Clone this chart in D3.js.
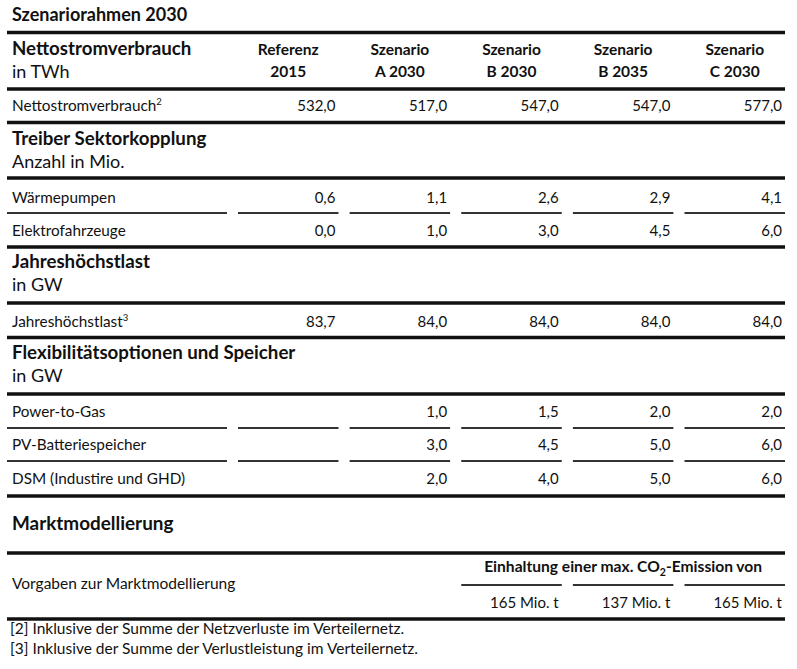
<!DOCTYPE html>
<html><head><meta charset="utf-8">
<script src="https://cdn.jsdelivr.net/npm/d3@7"></script>
<style>
body{margin:0;background:#fff;}
text{font-family:Lato,"Noto Sans",sans-serif;fill:#111;}
</style></head><body>
<svg id="c" width="797" height="669"></svg>
<script>
// ---- data ----
const title = "Szenariorahmen 2030";
const columns = ["Referenz|2015","Szenario|A 2030","Szenario|B 2030","Szenario|B 2035","Szenario|C 2030"];
const nettoValues = [532.0, 517.0, 547.0, 547.0, 577.0];
const waermepumpen = [0.6, 1.1, 2.6, 2.9, 4.1];
const elektrofahrzeuge = [0.0, 1.0, 3.0, 4.5, 6.0];
const hoechstlast = [83.7, 84.0, 84.0, 84.0, 84.0];
const powerToGas = [null, 1.0, 1.5, 2.0, 2.0];
const pvBatterie = [null, 3.0, 4.5, 5.0, 6.0];
const dsm = [null, 2.0, 4.0, 5.0, 6.0];
const co2Labels = ["B 2030","B 2035","C 2030"];
const co2Values = [165, 137, 165];
const footnotes = ["[2] Inklusive der Summe der Netzverluste im Verteilernetz.","[3] Inklusive der Summe der Verlustleistung im Verteilernetz."];

const svg = d3.select("#c");
const L = 7, R = 785, labelEnd = 227;
const BODY = 15.3, VAL = 15, HEAD = 15.5, SEC = 18.7;
const x = d3.scaleBand().domain(columns).range([238, R]).paddingInner(0.1).paddingOuter(0);
const fmt = v => v == null ? "" : d3.format(".1f")(v).replace(".", ",");

function rule(y, w, x1 = L, x2 = R) {
  svg.append("line").attr("x1", x1).attr("x2", x2).attr("y1", y).attr("y2", y)
    .attr("stroke", w > 2 ? "#111" : "#333").attr("stroke-width", w);
}
function txt(s, xx, y, opt = {}) {
  return svg.append("text").attr("x", xx).attr("y", y)
    .attr("font-size", opt.size || BODY).attr("font-weight", opt.bold ? 700 : 400)
    .attr("text-anchor", opt.anchor || "start").text(s);
}
function labelSup(s, sup, y) {
  const t = txt(s, 12, y);
  t.append("tspan").attr("font-size", 9.5).attr("dy", -6).text(sup);
}
function valueRow(vals, y, thinBelow) {
  columns.forEach((c, i) => {
    if (vals[i] != null) txt(fmt(vals[i]), x(c) + x.bandwidth() - 3, y, {anchor: "end", size: VAL});
  });
  if (thinBelow != null) {
    rule(thinBelow, 2, L, labelEnd);
    columns.forEach(c => rule(thinBelow, 2, x(c), x(c) + x.bandwidth()));
  }
}
function sectionHead(a, b, y) {
  txt(a, 12, y, {size: SEC, bold: true});
  txt(b, 12, y + 23, {size: 18});
}

// title
txt(title, 12, 21, {size: 18, bold: true});
rule(32.5, 3.5);
sectionHead("Nettostromverbrauch", "in TWh", 55);
columns.forEach(c => {
  const [a, b] = c.split("|");
  txt(a, x(c) + x.bandwidth() / 2, 55, {size: HEAD, bold: true, anchor: "middle"});
  txt(b, x(c) + x.bandwidth() / 2, 77, {size: HEAD, bold: true, anchor: "middle"});
});
rule(89, 3.5);
labelSup("Nettostromverbrauch", "2", 111);
valueRow(nettoValues, 111);
rule(122.5, 3.5);

sectionHead("Treiber Sektorkopplung", "Anzahl in Mio.", 145);
rule(178, 3.5);
txt("Wärmepumpen", 12, 203);
valueRow(waermepumpen, 203, 213);
txt("Elektrofahrzeuge", 12, 236);
valueRow(elektrofahrzeuge, 236);
rule(247, 3.5);

sectionHead("Jahreshöchstlast", "in GW", 268);
rule(303, 3.5);
labelSup("Jahreshöchstlast", "3", 327);
valueRow(hoechstlast, 327);
rule(337.5, 3.5);

sectionHead("Flexibilitätsoptionen und Speicher", "in GW", 359);
rule(394, 3.5);
txt("Power-to-Gas", 12, 417);
valueRow(powerToGas, 417, 428);
txt("PV-Batteriespeicher", 12, 450);
valueRow(pvBatterie, 450, 461);
txt("DSM (Industire und GHD)", 12, 484);
valueRow(dsm, 484);
rule(496, 3.5);

txt("Marktmodellierung", 12, 530, {size: 18.9, bold: true});
rule(553, 3.5);
txt("Vorgaben zur Marktmodellierung", 12, 589, {size: 15.5});
const colsCO2 = co2Labels.map(l => columns.find(c => c.split("|")[1] === l));
const cx1 = x(colsCO2[0]), cx2 = x(colsCO2[2]) + x.bandwidth();
const h = txt("Einhaltung einer max. CO", (cx1 + cx2) / 2, 572, {size: 15.6, bold: true, anchor: "middle"});
h.append("tspan").attr("font-size", 10.5).attr("dy", 4).text("2");
h.append("tspan").attr("dy", -4).text("-Emission von");
colsCO2.forEach((c, i) => {
  rule(585, 2, x(c), x(c) + x.bandwidth());
  txt(co2Values[i] + " Mio. t", x(c) + x.bandwidth() - 3, 608, {anchor: "end", size: VAL});
});
rule(619, 3.5);
txt(footnotes[0], 10, 634, {size: 15.5});
txt(footnotes[1], 10, 654, {size: 15.5});
</script></body></html>
